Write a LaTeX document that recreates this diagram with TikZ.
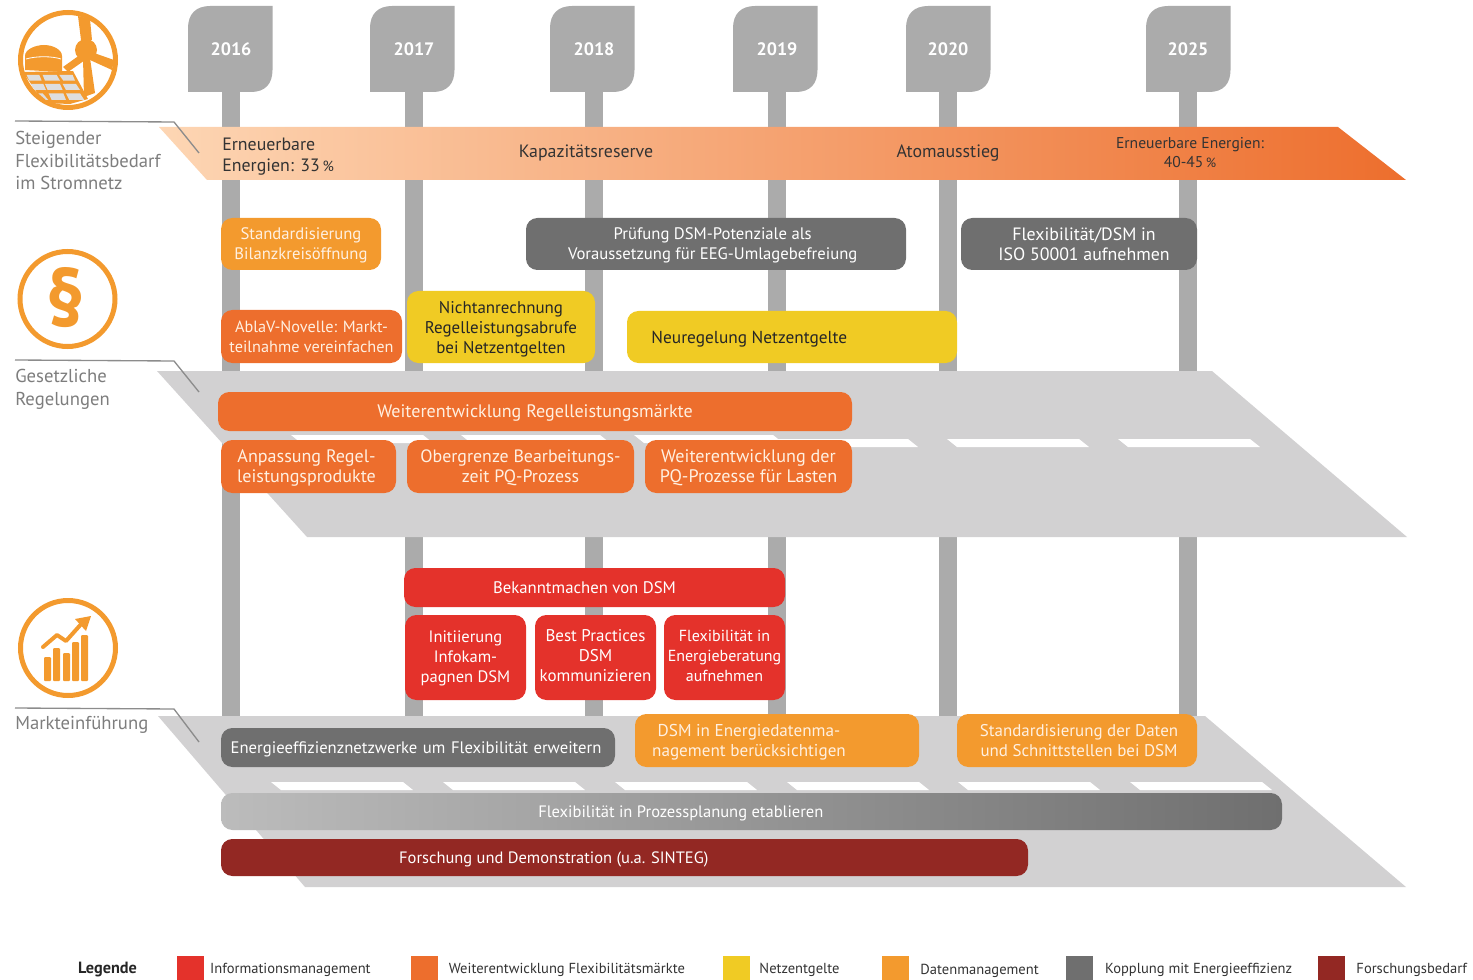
\documentclass[tikz,border=0pt]{standalone}
\usepackage{fontspec}
\setmainfont{PT Sans}
\usetikzlibrary{positioning}
\definecolor{polegray}{RGB}{171,171,171}
\definecolor{planegray}{RGB}{210,209,210}
\definecolor{leadgray}{RGB}{140,140,140}
\definecolor{labelgray}{RGB}{125,125,125}
\definecolor{iconorange}{RGB}{243,154,46}
\definecolor{flexorange}{RGB}{237,110,45}
\definecolor{netyellow}{RGB}{240,203,36}
\definecolor{infored}{RGB}{228,50,43}
\definecolor{coupgray}{RGB}{111,111,111}
\definecolor{darkred}{RGB}{147,40,35}
\definecolor{cellgray}{RGB}{222,222,222}
\definecolor{bandlight}{RGB}{253,214,180}
\definecolor{bandmid}{RGB}{247,170,120}
\definecolor{boxcream}{RGB}{255,240,225}
\tikzset{
  boxsize/.style 2 args={minimum width=#1*0.75pt,minimum height=#2*0.75pt},
  fontsz/.style={font=\fontsize{#1}{15}\selectfont},
  measure/.style={rounded corners=8.5pt,inner sep=0pt,align=center,text=white,text depth=0pt,fontsz=12.5},
  datbox/.style={measure,fill=iconorange,text=boxcream},
  flexbox/.style={measure,fill=flexorange,text=boxcream},
  netbox/.style={measure,fill=netyellow,text=black!85},
  infobox/.style={measure,fill=infored},
  coupbox/.style={measure,fill=coupgray},
  resbox/.style={measure,fill=darkred},
  bandtext/.style={inner sep=0pt,align=left,text=black!80,text depth=0pt,font=\fontsize{13.4}{15.6}\selectfont},
  sidetext/.style={inner sep=0pt,anchor=west,align=left,text=labelgray,font=\fontsize{14}{17}\selectfont},
  legtext/.style={inner sep=0pt,anchor=west,text=black!80,font=\fontsize{10.9}{13}\selectfont},
  legsquare/.style={minimum width=20.25pt,minimum height=21pt,inner sep=0pt,anchor=north west},
  leader/.style={draw=leadgray,line width=1pt},
  yeartext/.style={inner sep=0pt,text=white,font=\bfseries\fontsize{13.5}{16}\selectfont},
}
\begin{document}
\begin{tikzpicture}[x=0.75pt,y=0.75pt,yscale=-1,xscale=1]
\useasboundingbox (0,0) rectangle (1473,980);

%Poles and year tabs
\foreach \tabx/\polex/\yr in {188/222/2016,370/405/2017,550/585/2018,733/768/2019,906/939/2020,1146/1179/2025}{
  \fill [polegray] (\polex,90) rectangle (\polex+18,720);
  \fill [polegray] (\tabx+22,6) -- (\tabx+84.5,6) -- (\tabx+84.5,70) .. controls (\tabx+84.5,84) and (\tabx+77,92) .. (\tabx+63,92) -- (\tabx,92) -- (\tabx,28) .. controls (\tabx,14) and (\tabx+8,6) .. (\tabx+22,6) -- cycle;
  \node [yeartext] (y\yr) at (\polex+9,49) {\yr};
}

%Shape: Band
\shade [left color=bandlight,middle color=bandmid,right color=flexorange] (159,127) -- (1338,127) -- (1406,180) -- (207,180) -- cycle;

%Shape: Planes
\fill [planegray] (157,371) -- (1212,371) -- (1407,537) -- (307,537) -- cycle;
\fill [planegray] (158,716) -- (1205,716) -- (1406,887) -- (305,887) -- cycle;

%Stripes
\foreach \sx/\sw/\sy in {291/132/435,461/139/435,634/139/435,776/132/439,947/132/439,1118/132/439}{
  \fill [white] (\sx,\sy) -- (\sx+\sw,\sy) -- (\sx+\sw+10,\sy+8) -- (\sx+10,\sy+8) -- cycle;
}
\foreach \sx in {271,443,615,787,958,1130}{
  \fill [white] (\sx,782) -- (\sx+132,782) -- (\sx+142,790) -- (\sx+10,790) -- cycle;
}

%Icon: renewables
\draw [iconorange,line width=3.75pt] (68,60) circle [radius=47.5];
\fill [iconorange] (86,50) circle [radius=11];
\fill [iconorange] (81,40) -- (78,16) -- (90,19) -- (92,40) -- cycle;
\fill [iconorange] (94,53) -- (114,60) -- (112,70) -- (90,60) -- cycle;
\fill [iconorange] (84,52) -- (63,67) -- (68,72) -- (88,58) -- cycle;
\fill [iconorange] (83,58) -- (90,58) -- (95,93) -- (84,97) -- cycle;
\fill [iconorange] (25,70) -- (25,56) .. controls (25,49) and (36,45) .. (44,45) .. controls (52,45) and (62,49) .. (62,56) -- (62,72) -- cycle;
\draw [white,line width=0.6pt] (26,59) .. controls (36,56) and (52,56) .. (61,59);
\fill [iconorange] (23,72) -- (73,71) -- (88,99) -- (70,104) -- (44,103) -- cycle;
\foreach \ca/\cb/\cc/\cd in {80/118/88/125,128/170/135/180,178/218/190/225}{
  \fill [cellgray] (\ca/3,225/3) -- (\cb/3,225/3) -- (\cd/3,242/3) -- (\cc/3,242/3) -- cycle;
}
\foreach \ca/\cb/\cc/\cd in {92/130/105/138,135/180/143/188,188/228/198/240}{
  \fill [cellgray] (\ca/3,252/3) -- (\cb/3,252/3) -- (\cd/3,270/3) -- (\cc/3,270/3) -- cycle;
}
\foreach \ca/\cb/\cc/\cd in {115/128/138/145,146/190/155/198,198/240/208/253}{
  \fill [cellgray] (\ca/3,280/3) -- (\cb/3,280/3) -- (\cd/3,300/3) -- (\cc/3,300/3) -- cycle;
}

%Icon: law
\draw [iconorange,line width=3.75pt] (67.5,299) circle [radius=47.5];
\node [inner sep=0pt,text=iconorange,font=\bfseries\fontsize{62}{62}\selectfont] (lawsign) at (66,298) {\scalebox{.88}[1]{§}};

%Icon: market
\draw [iconorange,line width=3.75pt] (68,648) circle [radius=47.5];
\foreach \bx/\by in {44/657,53/648,63/653,72/642,81/635}{
  \fill [iconorange,rounded corners=0.75pt] (\bx,\by) rectangle (\bx+7,681);
}
\draw [iconorange,line width=3pt,line cap=round,line join=round] (43,647) -- (57,635) -- (66,641) -- (83,622);
\fill [iconorange] (91,616) -- (86,631) -- (75,619) -- cycle;

%Leader lines
\coordinate (leadA) at (15,121); \coordinate (kneeA) at (174,122); \coordinate (tipA) at (199,153);
\coordinate (leadB) at (15,360); \coordinate (kneeB) at (174,361); \coordinate (tipB) at (199,392);
\coordinate (leadC) at (15,708); \coordinate (kneeC) at (174,709); \coordinate (tipC) at (199,742);
\draw [leader] (leadA) -- (kneeA) -- (tipA);
\draw [leader] (leadB) -- (kneeB) -- (tipB);
\draw [leader] (leadC) -- (kneeC) -- (tipC);

% Text Node
\node [sidetext] (need) at (15,160.5) {Steigender\\Flexibilitätsbedarf\\im Stromnetz};
\node [sidetext] (law) at (15,389) {Gesetzliche\\Regelungen};
\node [sidetext] (market) at (15,725) {Markteinführung};

% Text Node
\node [bandtext,anchor=west] (band33) at (222,155) {Erneuerbare\\Energien: 33\,{\fontsize{11}{11}\selectfont\%}};
\node [bandtext] (bandkap) at (586,151) {Kapazitätsreserve};
\node [bandtext] (bandatom) at (948,151) {Atomausstieg};
\node [bandtext,align=center,font=\fontsize{11.7}{14.5}\selectfont] (band45) at (1190,152.5) {Erneuerbare Energien:\\40-45\,{\fontsize{10}{10}\selectfont\%}};

%Boxes
\node [datbox,boxsize={160}{52}] (std) at (301,244) {Standardisierung\\Bilanzkreisöffnung};
\node [coupbox,boxsize={380}{52}] (pruef) at (716,244) {\hspace*{-5pt}Prüfung DSM-Potenziale als\\\hspace*{-5pt}Voraussetzung für EEG-Umlagebefreiung};
\node [coupbox,boxsize={236}{52},fontsz=13.4] (iso) at (1079,244) {\hspace*{7.5pt}Flexibilität/DSM in\\\hspace*{7.5pt}ISO 50001 aufnehmen};
\node [flexbox,boxsize={181}{53},fontsz=12.2] (abla) at (311.5,336.5) {AblaV-Novelle: Markt-\\teilnahme vereinfachen};
\node [netbox,boxsize={188}{72},fontsz=12.7] (nicht) at (501,327) {Nichtanrechnung\\Regelleistungsabrufe\\bei Netzentgelten};
\node [netbox,boxsize={330}{52},fontsz=13] (neu) at (792,337) {\hspace*{-64pt}Neuregelung Netzentgelte};
\node [flexbox,boxsize={634}{39},fontsz=13.55] (weiter) at (535,411.5) {Weiterentwicklung Regelleistungsmärkte};
\node [flexbox,boxsize={175}{53},fontsz=13.55] (anpass) at (308.5,466.5) {\hspace*{-3pt}Anpassung Regel-\\\hspace*{-3pt}leistungsprodukte};
\node [flexbox,boxsize={227}{53},fontsz=13.4] (ober) at (520.5,466.5) {Obergrenze Bearbeitungs-\\zeit PQ-Prozess};
\node [flexbox,boxsize={207}{53},fontsz=13.6] (last) at (748.5,466.5) {Weiterentwicklung der\\PQ-Prozesse für Lasten};
\node [infobox,boxsize={381}{39},fontsz=12.55] (bekannt) at (594.5,587.5) {\hspace*{-15pt}Bekanntmachen von DSM};
\node [infobox,boxsize={121}{85},fontsz=12.4,text depth=1.5pt] (init) at (465.5,657.5) {Initiierung\\Infokam-\\pagnen DSM};
\node [infobox,boxsize={121}{85},fontsz=12.7,text depth=3pt] (best) at (595.5,657.5) {Best Practices\\DSM\\kommunizieren};
\node [infobox,boxsize={121}{85},fontsz=12,text depth=3pt] (flexinfo) at (724.5,657.5) {Flexibilität in\\Energieberatung\\aufnehmen};
\node [coupbox,boxsize={394}{39},text width=281pt,align=left,fontsz=12.5] (netzw) at (418,747.5) {Energieeffizienznetzwerke um Flexibilität erweitern};
\node [datbox,boxsize={284}{53},fontsz=12.85] (edm) at (777,740.5) {\hspace*{-42pt}DSM in Energiedatenma-\\\hspace*{-42pt}nagement berücksichtigen};
\node [datbox,boxsize={240}{53},fontsz=12.7] (stddat) at (1077,740.5) {\hspace*{3pt}Standardisierung der Daten\\\hspace*{3pt}und Schnittstellen bei DSM};
\node [measure,left color=polegray!80,right color=coupgray,boxsize={1061}{37},fontsz=12.4] (prozess) at (751.5,811.5) {\hspace*{-106pt}Flexibilität in Prozessplanung etablieren};
\node [resbox,boxsize={807}{37},fontsz=12.35] (forsch) at (624.5,857.5) {\hspace*{-106pt}Forschung und Demonstration (u.a. SINTEG)};

%Legend
\node [inner sep=0pt,text=black!85,font=\bfseries\fontsize{12.2}{13}\selectfont] (legende) at (107.5,970) {Legende};
\node [legsquare,fill=infored] (sqinfo) at (177,956) {};
\node [legtext,right=4pt of sqinfo.north east,yshift=-10.5pt,anchor=west] (ltinfo) {Informationsmanagement};
\node [legsquare,fill=flexorange] (sqflex) at (411,956) {};
\node [legtext,right=7.5pt of sqflex.north east,yshift=-10.5pt,anchor=west] (ltflex) {Weiterentwicklung Flexibilitätsmärkte};
\node [legsquare,fill=netyellow] (sqnet) at (723,956) {};
\node [legtext,right=6.5pt of sqnet.north east,yshift=-10.5pt,anchor=west] (ltnet) {Netzentgelte};
\node [legsquare,fill=iconorange] (sqdat) at (882,956) {};
\node [legtext,right=8pt of sqdat.north east,yshift=-11pt,anchor=west] (ltdat) {Datenmanagement};
\node [legsquare,fill=coupgray] (sqcoup) at (1066,956) {};
\node [legtext,right=8.5pt of sqcoup.north east,yshift=-10.5pt,anchor=west] (ltcoup) {Kopplung mit Energieeffizienz};
\node [legsquare,fill=darkred] (sqres) at (1318,956) {};
\node [legtext,right=8pt of sqres.north east,yshift=-10.5pt,anchor=west] (ltres) {Forschungsbedarf};

\end{tikzpicture}
\end{document}
